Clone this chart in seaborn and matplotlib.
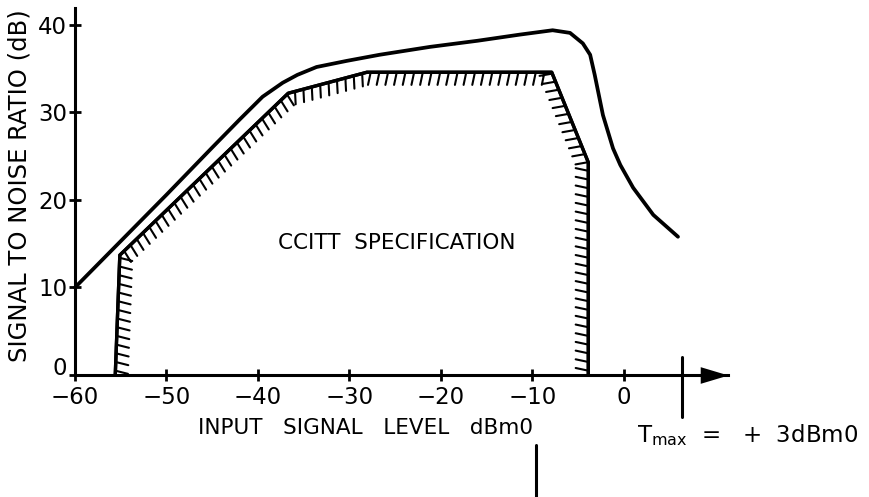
import matplotlib
matplotlib.use("Agg")
import matplotlib.pyplot as plt
from matplotlib import patheffects
import seaborn as sns

level_db = [-60, -55, -50, -45, -42, -39.5, -37.3, -35.7, -33.6, -30.3, -26.7, -21.2,
            -16, -11.4, -7.8, -5.9, -4.5, -3.7, -3.2, -2.3, -1.2, -0.4, 1.0, 3.2, 5.9]
snr_db = [10, 15.3, 20.6, 26.0, 29.2, 31.8, 33.4, 34.3, 35.2, 35.9, 36.6, 37.5,
          38.2, 38.9, 39.4, 39.1, 37.9, 36.6, 34.3, 29.7, 25.9, 24.0, 21.4, 18.3, 15.8]

# CCITT specification mask (hatched outline)
mask_level = [-55.6, -55.1, -36.7, -28.1, -7.9, -3.9, -3.9]
mask_snr = [0, 13.7, 32.2, 34.6, 34.6, 24.3, 0]

x_ticks = [-60, -50, -40, -30, -20, -10, 0]
y_ticks = [0, 10, 20, 30, 40]
tmax_pos = 6.3      # where T_max is marked on the drawn axis
ref_pos = -9.6      # short marker under "dBm0"

sns.set_theme(style="ticks")
plt.rcParams['font.family'] = ['DejaVu Sans']

fig = plt.figure(figsize=(8.69, 4.97), dpi=100)
ax = fig.add_axes([0.0863, 0.2455, 0.7518, 0.7394])

sns.lineplot(x=level_db, y=snr_db, ax=ax, color="black", lw=2.7,
             sort=False, estimator=None, clip_on=False)

hatch = [patheffects.withTickedStroke(angle=-102, spacing=6.2, length=1.5, linewidth=1.5),
         patheffects.Normal()]
sns.lineplot(x=mask_level, y=mask_snr, ax=ax, color="black", lw=2.4,
             sort=False, estimator=None, clip_on=False, path_effects=hatch)

ax.set_xlim(-60, 11.4)
ax.set_ylim(0, 42)
ax.set_xticks(x_ticks)
ax.set_yticks(y_ticks)
sns.despine(ax=ax)
for s in ["left", "bottom"]:
    ax.spines[s].set_linewidth(2.2)
    ax.spines[s].set_color("black")
ax.tick_params(direction="inout", length=9, width=2, colors="black", labelsize=16.5)
ax.tick_params(axis="y", pad=1)
ax.tick_params(axis="x", pad=3.5)
# the "0" of the SNR axis sits on the level axis, above the "-60"
ax.get_yticklabels()[0].set_verticalalignment("baseline")

# arrow head at the end of the level axis
ax.plot([1], [0], marker=[(-2, -0.6), (0, 0), (-2, 0.6)], ms=40, mew=0,
        color="black", transform=ax.get_yaxis_transform(), clip_on=False)

# T_max mark and reference mark below the axis
ax.plot([tmax_pos, tmax_pos], [2.1, -4.8], color="black", lw=2.2, clip_on=False)
ax.plot([ref_pos, ref_pos], [-8.0, -14.5], color="black", lw=2.2, clip_on=False)

ax.text(1.4, -7.7, r"$\mathregular{T_{max}}$  =   +  3dBm0", fontsize=16.5,
        ha="left", va="baseline", color="black")
ax.text(-24.8, 15.1, "CCITT  SPECIFICATION", fontsize=15.5,
        ha="center", va="center", color="black")

ax.set_xlabel("INPUT   SIGNAL   LEVEL   dBm0", fontsize=15.5, color="black")
ax.xaxis.set_label_coords(0.444, -0.117)
ax.set_ylabel("SIGNAL TO NOISE RATIO (dB)", fontsize=17.5, color="black")
ax.yaxis.set_label_coords(-0.067, 0.514)

fig.savefig("out.png", dpi=100)
